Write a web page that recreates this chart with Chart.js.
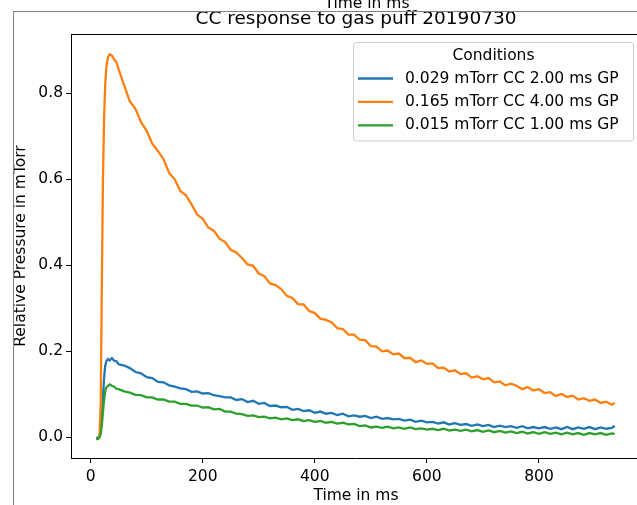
<!DOCTYPE html>
<html><head><meta charset="utf-8">
<script src="https://cdn.jsdelivr.net/npm/chart.js@4.4.0/dist/chart.umd.min.js"></script>
<style>
html,body{margin:0;padding:0;overflow:hidden;background:#fff;width:637px;height:505px}
#wrap{position:absolute;left:0;top:0;width:660px;height:505px}
</style>
</head><body><div id="wrap"><canvas id="c"></canvas></div>
<script>
const timeMs = [10,13,16,18,20,22,24,26,28,31,34,38,42,46,50,
60,70,80,90,100,110,120,130,140,150,160,170,180,190,200,
210,220,230,240,250,260,270,280,290,300,
310,320,330,340,350,360,370,380,390,400,
410,420,430,440,450,460,470,480,490,500,
510,520,530,540,550,560,570,580,590,600,
610,620,630,640,650,660,670,680,690,700,
710,720,730,740,750,760,770,780,790,800,
810,820,830,840,850,860,870,880,890,900,
910,920,930,935];

const blueVals = [0.0,-0.002,0.004,0.018,0.045,0.09,0.138,0.166,0.177,0.182,0.179,0.184,0.178,0.177,0.17,
0.167,0.161,0.152,0.149,0.140,0.138,0.129,0.128,0.121,0.118,0.114,0.112,0.106,0.107,0.102,
0.103,0.098,0.096,0.093,0.093,0.087,0.089,0.082,0.085,0.078,
0.080,0.073,0.074,0.070,0.071,0.064,0.066,0.061,0.063,0.057,
0.060,0.055,0.057,0.052,0.055,0.049,0.051,0.048,0.050,0.045,
0.048,0.043,0.045,0.042,0.043,0.039,0.041,0.036,0.039,0.035,
0.036,0.032,0.035,0.030,0.033,0.029,0.031,0.027,0.030,0.026,
0.029,0.024,0.027,0.024,0.026,0.022,0.026,0.021,0.024,0.021,
0.024,0.020,0.023,0.019,0.024,0.019,0.023,0.020,0.024,0.019,
0.023,0.020,0.022,0.027];

const orangeVals = [-0.005,-0.004,0.004,0.08,0.35,0.6,0.74,0.82,0.86,0.884,0.891,0.888,0.879,0.872,0.856,
0.818,0.781,0.764,0.733,0.713,0.683,0.666,0.647,0.615,0.600,0.573,0.563,0.542,0.518,0.508,
0.488,0.480,0.462,0.454,0.436,0.430,0.417,0.402,0.399,0.381,
0.375,0.358,0.354,0.345,0.329,0.324,0.310,0.309,0.294,0.289,
0.276,0.273,0.267,0.254,0.252,0.239,0.239,0.227,0.226,0.212,
0.211,0.200,0.202,0.193,0.195,0.184,0.185,0.175,0.179,0.171,
0.172,0.161,0.162,0.153,0.156,0.147,0.149,0.139,0.142,0.135,
0.138,0.128,0.130,0.121,0.125,0.120,0.112,0.117,0.109,0.112,
0.103,0.105,0.096,0.101,0.094,0.097,0.088,0.091,0.085,0.088,
0.080,0.083,0.076,0.080];

const greenVals = [-0.003,-0.004,0.0,0.008,0.028,0.058,0.088,0.107,0.116,0.12,0.123,0.120,0.118,0.113,0.112,
0.107,0.104,0.099,0.098,0.093,0.093,0.088,0.088,0.083,0.083,0.078,0.078,0.074,0.074,0.069,
0.070,0.065,0.066,0.060,0.060,0.055,0.054,0.050,0.051,0.047,
0.048,0.044,0.046,0.042,0.044,0.040,0.042,0.038,0.040,0.036,
0.038,0.034,0.036,0.032,0.034,0.030,0.031,0.026,0.028,0.023,
0.025,0.022,0.025,0.021,0.023,0.020,0.023,0.019,0.021,0.018,
0.020,0.017,0.020,0.016,0.018,0.015,0.018,0.014,0.017,0.013,
0.016,0.012,0.015,0.011,0.014,0.010,0.013,0.009,0.012,0.008,
0.012,0.008,0.011,0.007,0.011,0.007,0.010,0.006,0.010,0.007,
0.010,0.006,0.009,0.008];

const seriesLabels = ['0.029 mTorr CC 2.00 ms GP','0.165 mTorr CC 4.00 ms GP','0.015 mTorr CC 1.00 ms GP'];
const seriesColors = ['#1f77b4','#ff7f0e','#2ca02c'];
const legendTitle = 'Conditions';
const chartTitle = 'CC response to gas puff 20190730';
const xTitle = 'Time in ms';
const yTitle = 'Relative Pressure in mTorr';
const xTickVals = [0,200,400,600,800];
const yTickVals = [0.0,0.2,0.4,0.6,0.8];

const FONT = 'DejaVu Sans';
const pts = vals => timeMs.map((t,i)=>({x:t,y:vals[i]}));

const framePlugin = {
  id:'frame',
  afterDraw(chart){
    const ctx = chart.ctx, a = chart.chartArea;
    ctx.save();
    ctx.strokeStyle = '#000'; ctx.lineWidth = 1;
    ctx.beginPath(); ctx.moveTo(a.left, a.top+0.5); ctx.lineTo(a.right, a.top+0.5); ctx.stroke();
    const bx = 353.5, by = 42.5, bw = 280, bh = 98.5, r = 3;
    ctx.beginPath();
    ctx.moveTo(bx+r,by); ctx.lineTo(bx+bw-r,by); ctx.arcTo(bx+bw,by,bx+bw,by+r,r);
    ctx.lineTo(bx+bw,by+bh-r); ctx.arcTo(bx+bw,by+bh,bx+bw-r,by+bh,r);
    ctx.lineTo(bx+r,by+bh); ctx.arcTo(bx,by+bh,bx,by+bh-r,r);
    ctx.lineTo(bx,by+r); ctx.arcTo(bx,by,bx+r,by,r); ctx.closePath();
    ctx.fillStyle = 'rgba(255,255,255,0.8)'; ctx.fill();
    ctx.strokeStyle = '#cccccc'; ctx.stroke();
    ctx.fillStyle = '#000';
    ctx.font = '15.5px "'+FONT+'"';
    ctx.textBaseline = 'middle';
    ctx.textAlign = 'center';
    ctx.fillText(legendTitle, bx+bw/2, 56);
    ctx.textAlign = 'left';
    chart.data.datasets.forEach((ds,i)=>{
      const y = 78.5 + i*23.4;
      ctx.strokeStyle = ds.borderColor; ctx.lineWidth = 2.3;
      ctx.beginPath(); ctx.moveTo(358, y); ctx.lineTo(393, y); ctx.stroke();
      ctx.fillText(ds.label, 405, y);
    });
    ctx.strokeStyle = '#8a7c7c'; ctx.lineWidth = 1;
    ctx.beginPath(); ctx.moveTo(13, 11.5); ctx.lineTo(chart.width, 11.5); ctx.stroke();
    ctx.beginPath(); ctx.moveTo(13.5, 11); ctx.lineTo(13.5, chart.height); ctx.stroke();
    ctx.fillStyle = '#000'; ctx.textAlign = 'center'; ctx.textBaseline = 'alphabetic';
    ctx.font = '15.5px "'+FONT+'"';
    ctx.fillText(xTitle, 367, 8);
    ctx.restore();
  }
};

new Chart(document.getElementById('c'), {
  type:'line',
  data:{
    datasets:[
      {label:seriesLabels[0], data:pts(blueVals), borderColor:seriesColors[0], order:3},
      {label:seriesLabels[1], data:pts(orangeVals), borderColor:seriesColors[1], order:2},
      {label:seriesLabels[2], data:pts(greenVals), borderColor:seriesColors[2], order:1}
    ]
  },
  options:{
    responsive:true, maintainAspectRatio:false, animation:false,
    devicePixelRatio:1,
    elements:{line:{borderWidth:2.3, tension:0, fill:false}, point:{radius:0}},
    layout:{padding:{top:0,left:0,right:19,bottom:0}},
    plugins:{
      legend:{display:false},
      tooltip:{enabled:false},
      title:{display:true, text:chartTitle, fullSize:false, color:'#000',
        font:{family:FONT, size:18.5, weight:'normal'}, padding:{top:8,bottom:3.8}}
    },
    scales:{
      x:{type:'linear', min:-35, max:982,
        afterBuildTicks(s){ s.ticks = xTickVals.map(v=>({value:v})); },
        afterFit(s){ s.height = 47; },
        grid:{drawOnChartArea:false, drawTicks:true, tickLength:5, color:'#000'},
        border:{display:true, color:'#000', width:1},
        ticks:{color:'#000', font:{family:FONT, size:15.5}, padding:5, maxRotation:0, autoSkip:false,
          callback:v=>String(v)},
        title:{display:true, text:xTitle, color:'#000', font:{family:FONT, size:15.5}, padding:{top:0,bottom:0}}
      },
      y:{type:'linear', min:-0.048, max:0.938,
        afterBuildTicks(s){ s.ticks = yTickVals.map(v=>({value:v})); },
        afterFit(s){ s.width = 71; },
        grid:{drawOnChartArea:false, drawTicks:true, tickLength:5, color:'#000'},
        border:{display:true, color:'#000', width:1},
        ticks:{color:'#000', font:{family:FONT, size:15.5}, padding:3, autoSkip:false,
          callback:v=>Number(v).toFixed(1)},
        title:{display:true, text:yTitle, color:'#000', font:{family:FONT, size:15.5}, padding:{top:12,bottom:0}}
      }
    }
  },
  plugins:[framePlugin]
});
</script>
</body></html>
